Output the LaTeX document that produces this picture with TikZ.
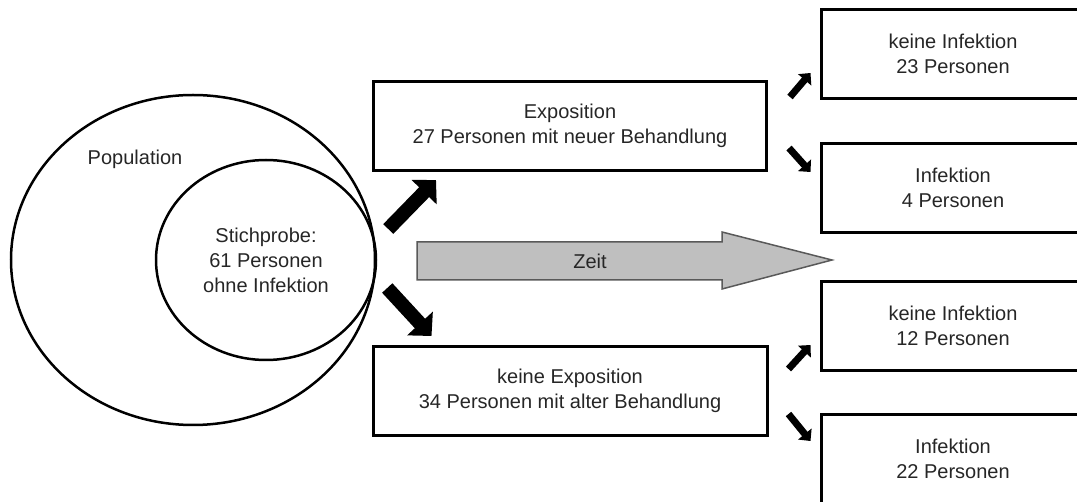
\documentclass[tikz,border=0pt]{standalone}
\usepackage{fontspec}
\setmainfont{Liberation Sans}
\usetikzlibrary{shapes.geometric,arrows.meta,calc}

\begin{document}
\begin{tikzpicture}[x=1pt, y=-1pt, inner sep=3pt]
		\tikzstyle{every node}=[align=center, text=black!85, font=\fontsize{20}{25}\selectfont]
		\tikzstyle{box}=[draw, line width=3pt, minimum height=89pt]
		\tikzstyle{bigarrow}=[line width=14pt, -{Triangle[length=17pt, width=34pt]}]
		\tikzstyle{smallarrow}=[line width=7pt, -{Triangle[length=9pt, width=17pt]}]

			\useasboundingbox (0,0) rectangle (1077,502);
			\clip (0,0) rectangle (1077,502);

			\node[draw, ellipse, line width=2.5pt, minimum width=364pt, minimum height=330pt] (population) at (193,260) {};
			\node (poplabel) at (135,159) {Population};
			\node[draw, ellipse, line width=2.5pt, inner sep=0pt, minimum width=220pt, minimum height=200pt] (sample) at (266,260) {Stichprobe:\\61 Personen\\ohne Infektion};

			\node[box, minimum width=393pt] (expo) at (570,126) {Exposition\\27 Personen mit neuer Behandlung};
			\node[box, minimum width=394pt] (noexpo) at (570,391) {keine Exposition\\34 Personen mit alter Behandlung};
			\node[box, minimum width=264pt] (noinf1) at (953,54) {keine Infektion\\23 Personen};
			\node[box, minimum width=264pt] (inf1) at (953,188) {Infektion\\4 Personen};
			\node[box, minimum width=264pt] (noinf2) at (953,326) {keine Infektion\\12 Personen};
			\node[box, minimum width=264pt] (inf2) at (953,459) {Infektion\\22 Personen};

			\draw[fill=gray!50, draw=black!65, line width=1.5pt] (417,242) -- (722,242) -- (722,232) -- (832,260) -- (722,289) -- (722,280) -- (417,280) -- cycle;
			\node (zeit) at (590,261) {Zeit};

			\draw[bigarrow] ($(sample.east)+(11,-31)$) -- ($(expo.south west)+(64,8)$);
			\draw[bigarrow] ($(sample.east)+(10,28)$) -- ($(noexpo.north west)+(60,-9)$);

			\draw[smallarrow] ($(expo.east)+(22,-29)$) -- ($(noinf1.west)+(-9,19)$);
			\draw[smallarrow] ($(expo.east)+(21,22)$) -- ($(inf1.west)+(-9,-16)$);
			\draw[smallarrow] ($(noexpo.east)+(20,-22)$) -- ($(noinf2.west)+(-9,19)$);
			\draw[smallarrow] ($(noexpo.east)+(20,23)$) -- ($(inf2.west)+(-9,-18)$);
		\end{tikzpicture}
\end{document}
